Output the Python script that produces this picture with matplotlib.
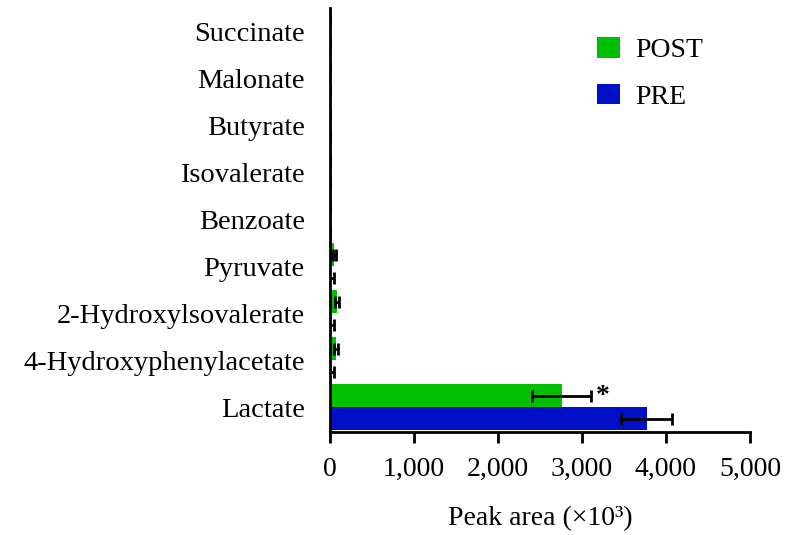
import numpy as np
import matplotlib
matplotlib.use("Agg")
import matplotlib.pyplot as plt
from matplotlib.patches import Patch
from matplotlib.ticker import FuncFormatter

plt.rcParams['font.family'] = ['Liberation Serif', 'DejaVu Serif']

# bottom to top
categories = ['Lactate', '4-Hydroxyphenylacetate', '2-Hydroxylsovalerate', 'Pyruvate',
              'Benzoate', 'Isovalerate', 'Butyrate', 'Malonate', 'Succinate']
post_vals = [2760, 70, 85, 55, 3, 2, 2, 1, 1]
post_err = [350, 25, 25, 20, 1, 1, 1, 1, 1]
pre_vals = [3770, 20, 20, 15, 2, 2, 1, 1, 1]
pre_err = [300, 30, 25, 30, 1, 1, 1, 1, 1]

green = '#00C000'
blue = '#0010C8'
fs = 20

fig = plt.figure(figsize=(7.87, 5.35), dpi=100)
ax = fig.add_axes([0.419, 0.1925, 0.534, 0.7925])

y = np.arange(len(categories))
h = 0.49
ekw = dict(ecolor='black', elinewidth=2, capsize=4.5, capthick=2)
ax.barh(y + h / 2, post_vals, height=h, color=green, xerr=post_err, error_kw=ekw)
ax.barh(y - h / 2, pre_vals, height=h, color=blue, xerr=pre_err, error_kw=ekw)

ax.text(post_vals[0] + post_err[0] + 60, y[0] + h / 2 - 0.02, '*',
        fontsize=20, fontweight='bold', va='center', ha='left')

ax.set_xlim(0, 5000)
ax.set_ylim(-0.53, 8.5)
ax.set_xticks([0, 1000, 2000, 3000, 4000, 5000])
ax.xaxis.set_major_formatter(FuncFormatter(lambda v, p: f'{int(v):,}'))
ax.set_yticks(y)
ax.set_yticklabels(categories)

ax.spines['top'].set_visible(False)
ax.spines['right'].set_visible(False)
ax.spines['left'].set_linewidth(2)
ax.spines['bottom'].set_linewidth(2)
ax.tick_params(axis='y', length=0, pad=18, labelsize=20.5)
ax.tick_params(axis='x', length=8, width=2, direction='out', labelsize=fs, pad=10)

ax.set_xlabel('Peak area (\u00d710\u00b3)', fontsize=fs, labelpad=17)

handles = [Patch(facecolor=green, label='POST'), Patch(facecolor=blue, label='PRE')]
fig.legend(handles=handles, loc='upper left', bbox_to_anchor=(0.759, 0.93), frameon=False,
           fontsize=fs, handlelength=0.8, handleheight=0.75, handletextpad=0.55,
           labelspacing=0.75, borderpad=0, borderaxespad=0)

fig.savefig('out.png', dpi=100)
